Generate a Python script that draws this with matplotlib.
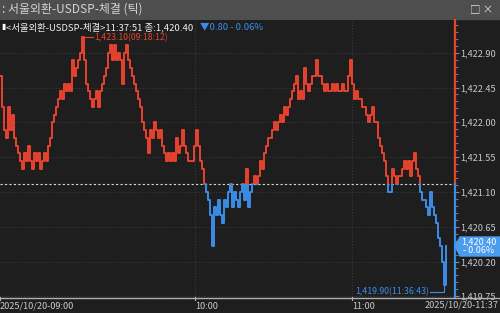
import numpy as np
import matplotlib
matplotlib.use("Agg")
import matplotlib.pyplot as plt
from matplotlib.patches import Rectangle, Polygon

plt.rcParams["font.family"] = ["Noto Sans CJK KR", "DejaVu Sans"]

# ── Data: tick-by-tick USD/KRW trade prices ──────────────────────────────────
prices = [
    1422.6, 1422.2, 1421.9, 1421.8, 1422.2, 1421.9, 1422.1, 1421.8, 1421.7, 1421.6,
    1421.5, 1421.4, 1421.6, 1421.5, 1421.7, 1421.5, 1421.4, 1421.6, 1421.5, 1421.6,
    1421.4, 1421.5, 1421.6, 1421.5, 1421.7, 1421.8, 1422.0, 1422.1, 1422.2, 1422.3,
    1422.4, 1422.3, 1422.5, 1422.4, 1422.5, 1422.4, 1422.8, 1422.6, 1422.7, 1422.8,
    1422.9, 1423.1, 1422.8, 1422.5, 1422.4, 1422.3, 1422.2, 1422.3, 1422.4, 1422.2,
    1422.4, 1422.5, 1422.6, 1422.7, 1422.9, 1423.0, 1422.8, 1423.0, 1422.8, 1422.9,
    1422.8, 1422.5, 1422.9, 1423.0, 1422.8, 1422.7, 1422.6, 1422.5, 1422.4, 1422.3,
    1422.2, 1422.0, 1421.9, 1421.8, 1421.6, 1421.9, 1421.8, 1422.0, 1421.9, 1421.8,
    1421.9, 1421.7, 1421.6, 1421.5, 1421.6, 1421.5, 1421.6, 1421.5, 1421.8, 1421.6,
    1421.7, 1421.9, 1421.7, 1421.6, 1421.5, 1421.5, 1421.5, 1421.7, 1421.9, 1421.7,
    1421.5, 1421.4, 1421.2, 1421.1, 1421.0, 1420.8, 1420.4, 1420.9, 1420.8, 1421.0,
    1420.8, 1420.7, 1421.0, 1420.9, 1421.1, 1421.2, 1420.9, 1421.1, 1421.0, 1420.9,
    1421.1, 1421.2, 1421.0, 1421.4, 1420.9, 1421.1, 1421.2, 1421.3, 1421.2, 1421.3,
    1421.5, 1421.4, 1421.6, 1421.7, 1421.8, 1421.8, 1421.9, 1422.0, 1421.9, 1422.0,
    1422.1, 1422.0, 1422.2, 1422.1, 1422.2, 1422.3, 1422.4, 1422.5, 1422.6, 1422.3,
    1422.4, 1422.3, 1422.7, 1422.5, 1422.4, 1422.5, 1422.6, 1422.6, 1422.8, 1422.6,
    1422.6, 1422.5, 1422.4, 1422.5, 1422.4, 1422.4, 1422.5, 1422.4, 1422.5, 1422.4,
    1422.4, 1422.5, 1422.4, 1422.4, 1422.6, 1422.8, 1422.5, 1422.3, 1422.4, 1422.3,
    1422.3, 1422.2, 1422.2, 1422.1, 1422.0, 1422.1, 1422.2, 1422.0, 1422.0, 1421.8,
    1421.7, 1421.6, 1421.5, 1421.3, 1421.1, 1421.1, 1421.4, 1421.3, 1421.2, 1421.3,
    1421.3, 1421.4, 1421.5, 1421.4, 1421.5, 1421.3, 1421.5, 1421.6, 1421.4, 1421.3,
    1421.1, 1421.0, 1421.0, 1420.9, 1420.8, 1421.1, 1420.9, 1420.8, 1420.7, 1420.5,
    1420.4, 1420.2, 1419.9, 1420.4,
]
prev_close = 1421.20
y_ticks = [1422.90, 1422.45, 1422.00, 1421.55, 1421.10, 1420.65, 1420.20, 1419.75]
time_tick_idx = [0, 97.5, 176]
time_tick_labels = ["2025/10/20-09:00", "10:00", "11:00"]
end_label = "2025/10/20-11:37"
high_label = "1,423.10(09:18:12)"
low_label = "1,419.90(11:36:43)"
title = ": 서울외환-USDSP-체결 (틱)"
info_main = "<서울외환-USDSP-체결>11:37:51 종:1,420.40"
info_change = "▼0.80 - 0.06%"
last_box = "1,420.40\n- 0.06%"

# ── Style ─────────────────────────────────────────────────────────────────────
BG = "#1e1e1e"
RED = "#e8432f"
BLUE = "#3b8ee8"
BOX = "#4a9cf0"
TXT = "#c8c8c8"
GRID = "#3e3e3e"

W, H = 500, 313
fig = plt.figure(figsize=(W / 100, H / 100), dpi=100, facecolor=BG)


def fx(px):
    return px / W


def fy(py):
    return 1 - py / H


ax = fig.add_axes([0, fy(297), fx(455), fy(20) - fy(297)])
ax.set_facecolor(BG)
for s in ax.spines.values():
    s.set_visible(False)

x = np.arange(len(prices))
ax.set_xlim(0, 227.5)
ax.set_ylim(1419.741, 1423.323)

# grid
for yt in y_ticks:
    ax.axhline(yt, color=GRID, lw=0.7, ls=(0, (1, 2)), zorder=0)
for xt in time_tick_idx[1:]:
    ax.axvline(xt, color=GRID, lw=0.7, ls=(0, (1, 2)), zorder=0)

# price line, red above previous close, blue below
for color, y0, y1 in [(RED, prev_close, 1430), (BLUE, 1410, prev_close)]:
    ln, = ax.plot(x, prices, drawstyle="steps-post", color=color, lw=1.4, zorder=3)
    clip = Rectangle((-10, y0), 300, y1 - y0, transform=ax.transData)
    ln.set_clip_path(clip)

ax.axhline(prev_close, color="#d8d8d8", lw=0.8, ls=(0, (2, 2)), zorder=2)

# right price axis
ax.yaxis.tick_right()
ax.set_yticks(y_ticks)
ax.set_yticklabels([f"{v:,.2f}" for v in y_ticks], color=TXT, fontsize=6.6)
ax.set_yticks(np.arange(1419.75, 1423.35, 0.09), minor=True)
ax.tick_params(axis="y", which="major", length=3, color="#8a8a8a", pad=1)
ax.tick_params(axis="y", which="minor", length=2, color="#8a8a8a")
ax.set_xticks([])
tr = ax.get_yaxis_transform()
ax.plot([1, 1], [prev_close, 1423.323], color=RED, lw=1.6, transform=tr, clip_on=False)
ax.plot([1, 1], [1419.741, prev_close], color=BLUE, lw=1.6, transform=tr, clip_on=False)

# high / low annotations
imax = int(np.argmax(prices))
imin = int(np.argmin(prices))
ax.plot([imax, imax + 5.5], [prices[imax], prices[imax]], color=RED, lw=0.8, zorder=4)
ax.text(imax + 6, prices[imax], high_label, color=RED, fontsize=6.3, va="center", ha="left")
low_y = 1419.805
ax.plot([imin, imin, imin - 7], [prices[imin], low_y, low_y], color=BLUE, lw=0.8, zorder=4)
ax.text(imin - 7.5, low_y, low_label, color=BLUE, fontsize=6.3, va="center", ha="right")

# bottom time axis
fig.add_artist(plt.Line2D([0, 1], [fy(297.5), fy(297.5)], color="#b0b0b0", lw=1.0))
xt_tr = ax.get_xaxis_transform()
for xi, lab in zip(time_tick_idx, time_tick_labels):
    ax.plot([xi, xi], [0, -0.012], color="#b0b0b0", lw=0.8, transform=xt_tr, clip_on=False)
    ax.text(xi, -0.018, lab, color=TXT, fontsize=6.6, ha="left", va="top",
            transform=xt_tr, clip_on=False)
fig.text(fx(499), fy(305), end_label, color=TXT, fontsize=6.6, ha="right", va="center")

# header bar
fig.add_artist(Rectangle((0, fy(19)), 1, fy(0) - fy(19), transform=fig.transFigure,
                         color="#4e4e4e", zorder=0))
fig.text(fx(2), fy(9.5), title, color="#d4d4d4", fontsize=8.6, va="center")
fig.text(fx(470), fy(9.5), "□ ×", color="#e0e0e0", fontsize=7.5, va="center")

# info line
fig.text(fx(1), fy(27), "▮", color="white", fontsize=5.5, va="center")
fig.text(fx(6), fy(27), info_main, color="#f0f0f0", fontsize=6.8, va="center")
fig.text(fx(200), fy(27), info_change, color=BLUE, fontsize=6.8, va="center")

# last price box
pts = [(455, 246), (460, 237), (500, 237), (500, 256), (460, 256)]
fig.add_artist(Polygon([(fx(a), fy(b)) for a, b in pts], closed=True,
                       transform=fig.transFigure, color=BOX, zorder=5))
fig.text(fx(479), fy(246.5), last_box, color="white", fontsize=6.5, ha="center",
         va="center", linespacing=0.95, zorder=6)

fig.savefig("out.png", dpi=100, facecolor=BG)
